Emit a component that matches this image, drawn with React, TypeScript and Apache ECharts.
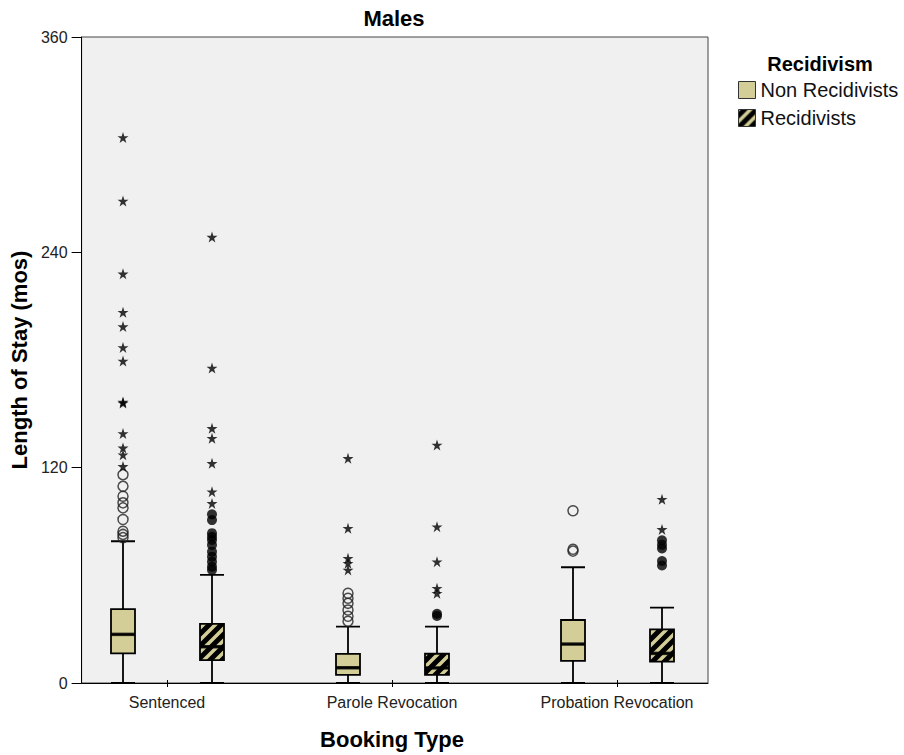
import React, { useEffect, useRef } from "react";
import * as echarts from "echarts";

const categories = ["Sentenced", "Parole Revocation", "Probation Revocation"];
const seriesNames = ["Non Recidivists", "Recidivists"];
const yTicks = [0, 120, 240, 360];

// [min, Q1, median, Q3, max]
const nonRecidBoxes = [
  [0, 16.5, 27.1, 41.2, 79],
  [0, 4.5, 8.5, 16.2, 31.4],
  [0, 12.3, 21.7, 35.1, 64.5],
];
const recidBoxes = [
  [0, 12.8, 20.2, 32.9, 60.2],
  [0, 4.5, 8.4, 16.3, 31.4],
  [0, 11.9, 16.5, 29.9, 42],
];

// outliers per category
const nonRecidCircles = [
  [116.1, 109.6, 104.1, 100.4, 97.6, 91.1, 84.6, 82.8, 81.0],
  [50, 47.2, 44.4, 40.7, 37.2, 34.4],
  [96, 74.5, 73.5],
];
const nonRecidStars = [
  [304, 268.6, 228, 206.6, 198.6, 187, 179.4, 156.6, 156, 139, 131, 127.2, 120.7],
  [125.2, 86.2, 69.5, 66.7, 63],
  [],
];
const recidDots = [
  [94, 90.8, 83.5, 81.5, 79.7, 76.9, 73.2, 70.4, 67.6, 64.8, 63],
  [38.6, 37.4],
  [79.5, 77, 75, 68, 65.5],
];
const recidStars = [
  [248.5, 175.5, 141.9, 136.4, 122.4, 106.6, 100.1],
  [132.6, 87.1, 67.6, 52.8, 50],
  [102.4, 85.6],
];

const KHAKI = "#d3ce97";
const FONT = "Arial, 'Liberation Sans', sans-serif";
const STAR =
  "path://M50,0 L61.2,34.5 L97.6,34.5 L68.2,55.9 L79.4,90.5 L50,69.1 L20.6,90.5 L31.8,55.9 L2.4,34.5 L38.8,34.5 Z";

function toPoints(groups: number[][]) {
  const out: number[][] = [];
  groups.forEach((vals, i) => vals.forEach((v) => out.push([i, v])));
  return out;
}
function medians(boxes: number[][]) {
  return boxes.map((b, i) => [i, b[2]]);
}

export default function App() {
  const ref = useRef<HTMLDivElement>(null);
  useEffect(() => {
    document.body.style.margin = "0";
    if (!ref.current) return;
    const chart = echarts.init(ref.current, undefined, { renderer: "svg" });

    const c = document.createElement("canvas");
    c.width = 12;
    c.height = 12;
    const ctx = c.getContext("2d")!;
    ctx.fillStyle = "#000";
    ctx.fillRect(0, 0, 12, 12);
    ctx.strokeStyle = KHAKI;
    ctx.lineWidth = 3.5;
    ctx.beginPath();
    ctx.moveTo(-6, 6);
    ctx.lineTo(6, -6);
    ctx.moveTo(0, 12);
    ctx.lineTo(12, 0);
    ctx.moveTo(6, 18);
    ctx.lineTo(18, 6);
    ctx.stroke();
    const hatch: any = {
      image: c.toDataURL(),
      imageWidth: 12,
      imageHeight: 12,
      repeat: "repeat",
    };

    const top = 37;
    const height = 646;
    const hiddenY = (gi: number) => ({
      type: "value",
      gridIndex: gi,
      min: 0,
      max: 360,
      show: false,
    });
    const hiddenCat = (gi: number) => ({
      type: "category",
      gridIndex: gi,
      data: categories,
      show: false,
    });

    chart.setOption({
      animation: false,
      textStyle: { fontFamily: FONT },
      grid: [
        {
          left: 79,
          top,
          width: 629,
          height,
          show: true,
          backgroundColor: "#f0f0f0",
          borderColor: "#444",
          borderWidth: 1,
        },
        { left: 10.5, top, width: 675, height },
        { left: 99.5, top, width: 675, height },
        { left: 54.5, top, width: 675, height },
      ],
      xAxis: [
        {
          type: "value",
          gridIndex: 0,
          min: 0,
          max: 1,
          axisLine: { show: true, lineStyle: { color: "#000", width: 1 } },
          axisTick: { show: false },
          axisLabel: { show: false },
          splitLine: { show: false },
        },
        hiddenCat(1),
        hiddenCat(2),
        {
          type: "category",
          gridIndex: 3,
          data: categories,
          axisLine: { show: false },
          axisTick: {
            show: true,
            alignWithLabel: true,
            length: 7,
            lineStyle: { color: "#000" },
          },
          axisLabel: { color: "#222", fontSize: 16, margin: 14, fontFamily: FONT },
          name: "Booking Type",
          nameLocation: "middle",
          nameGap: 48,
          nameTextStyle: {
            fontSize: 22,
            fontWeight: "bold",
            color: "#000",
            fontFamily: FONT,
          },
        },
      ],
      yAxis: [
        {
          type: "value",
          gridIndex: 0,
          min: yTicks[0],
          max: yTicks[yTicks.length - 1],
          interval: 120,
          axisLine: { show: true, lineStyle: { color: "#000", width: 1 } },
          axisTick: { show: true, length: 10, lineStyle: { color: "#000" } },
          axisLabel: { color: "#222", fontSize: 16, margin: 14, fontFamily: FONT },
          splitLine: { show: false },
          name: "Length of Stay (mos)",
          nameLocation: "middle",
          nameGap: 48,
          nameTextStyle: {
            fontSize: 22,
            fontWeight: "bold",
            color: "#000",
            fontFamily: FONT,
          },
        },
        hiddenY(1),
        hiddenY(2),
        hiddenY(3),
      ],
      legend: {
        data: [
          {
            name: seriesNames[0],
            itemStyle: { color: KHAKI, borderColor: "#333", borderWidth: 1 },
          },
          {
            name: seriesNames[1],
            itemStyle: { color: hatch, borderColor: "#333", borderWidth: 1 },
          },
        ],
        orient: "vertical",
        left: 738,
        top: 80,
        padding: 0,
        itemWidth: 17,
        itemHeight: 17,
        itemGap: 8,
        icon: "rect",
        textStyle: { fontSize: 20, color: "#111", fontFamily: FONT },
      },
      graphic: [
        {
          type: "text",
          x: 394,
          y: 18,
          style: {
            text: "Males",
            align: "center",
            verticalAlign: "middle",
            fontSize: 22,
            fontWeight: "bold",
            fontFamily: FONT,
            fill: "#000",
          },
        },
        {
          type: "text",
          x: 820,
          y: 64,
          style: {
            text: "Recidivism",
            align: "center",
            verticalAlign: "middle",
            fontSize: 20,
            fontWeight: "bold",
            fontFamily: FONT,
            fill: "#000",
          },
        },
      ],
      series: [
        {
          name: seriesNames[0],
          type: "boxplot",
          xAxisIndex: 1,
          yAxisIndex: 1,
          data: nonRecidBoxes,
          boxWidth: [24, 24],
          itemStyle: { color: KHAKI, borderColor: "#000", borderWidth: 1.8 },
          emphasis: { disabled: true },
        },
        {
          name: seriesNames[1],
          type: "boxplot",
          xAxisIndex: 2,
          yAxisIndex: 2,
          data: recidBoxes,
          boxWidth: [24, 24],
          itemStyle: { color: hatch, borderColor: "#000", borderWidth: 1.8 },
          emphasis: { disabled: true },
        },
        {
          name: "nonMedian",
          type: "scatter",
          xAxisIndex: 1,
          yAxisIndex: 1,
          data: medians(nonRecidBoxes),
          symbol: "rect",
          symbolSize: [24, 3.5],
          itemStyle: { color: "#000" },
          z: 3,
        },
        {
          name: "recidMedian",
          type: "scatter",
          xAxisIndex: 2,
          yAxisIndex: 2,
          data: medians(recidBoxes),
          symbol: "rect",
          symbolSize: [24, 3.5],
          itemStyle: { color: "#000" },
          z: 3,
        },
        {
          name: "nonCircles",
          type: "scatter",
          xAxisIndex: 1,
          yAxisIndex: 1,
          data: toPoints(nonRecidCircles),
          symbol: "circle",
          symbolSize: 10,
          itemStyle: { color: "rgba(0,0,0,0)", borderColor: "#222", borderWidth: 1.5 },
        },
        {
          name: "nonStars",
          type: "scatter",
          xAxisIndex: 1,
          yAxisIndex: 1,
          data: toPoints(nonRecidStars),
          symbol: STAR,
          symbolSize: 11,
          itemStyle: { color: "#000" },
        },
        {
          name: "recidDots",
          type: "scatter",
          xAxisIndex: 2,
          yAxisIndex: 2,
          data: toPoints(recidDots),
          symbol: "circle",
          symbolSize: 10,
          itemStyle: { color: "#000" },
        },
        {
          name: "recidStars",
          type: "scatter",
          xAxisIndex: 2,
          yAxisIndex: 2,
          data: toPoints(recidStars),
          symbol: STAR,
          symbolSize: 11,
          itemStyle: { color: "#000" },
        },
      ],
    });
    return () => chart.dispose();
  }, []);
  return (
    <div
      ref={ref}
      style={{ position: "absolute", left: 0, top: 0, width: 904, height: 755 }}
    />
  );
}
